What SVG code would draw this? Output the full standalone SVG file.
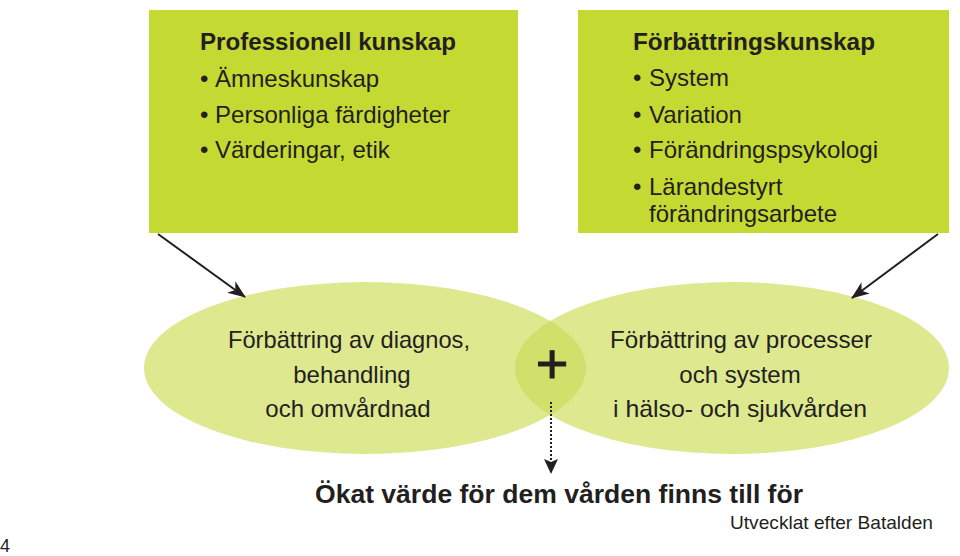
<svg xmlns="http://www.w3.org/2000/svg" width="960" height="556" viewBox="0 0 960 556">
<style>
text{font-family:"Liberation Sans",Arial,sans-serif;fill:#231f20;}
.t{font-size:24px;font-weight:bold;}
.b{font-size:24px;}
.e{font-size:24px;text-anchor:middle;}
.box{fill:#c5d933;}
.ell{fill:#dde88f;}
.conn{stroke:#231f20;stroke-width:2;fill:none;}
</style>
<defs>
<marker id="ah" viewBox="0 0 18 14" refX="17" refY="7" markerWidth="18" markerHeight="14" markerUnits="userSpaceOnUse" orient="auto">
<path d="M0,0 L18,7 L0,14 L5,7 Z" fill="#231f20"/>
</marker>
<clipPath id="clipL"><ellipse cx="365" cy="368" rx="221" ry="86"/></clipPath>
</defs>
<rect width="960" height="556" fill="#fff"/>
<g id="box-professionell">
<rect class="box" x="149" y="10" width="369" height="223"/>
<text class="t" x="200" y="50" textLength="256" lengthAdjust="spacingAndGlyphs">Professionell kunskap</text>
<text class="b" x="200" y="87">•</text><text class="b" x="215" y="87">Ämneskunskap</text>
<text class="b" x="200" y="123">•</text><text class="b" x="215" y="123" textLength="235" lengthAdjust="spacingAndGlyphs">Personliga färdigheter</text>
<text class="b" x="200" y="158">•</text><text class="b" x="215" y="158">Värderingar, etik</text>
</g>
<g id="box-forbattring">
<rect class="box" x="578" y="10" width="371" height="223"/>
<text class="t" x="633" y="50" textLength="242" lengthAdjust="spacingAndGlyphs">Förbättringskunskap</text>
<text class="b" x="633" y="86">•</text><text class="b" x="649" y="86">System</text>
<text class="b" x="633" y="123">•</text><text class="b" x="649" y="123">Variation</text>
<text class="b" x="633" y="158">•</text><text class="b" x="649" y="158" textLength="229" lengthAdjust="spacingAndGlyphs">Förändringspsykologi</text>
<text class="b" x="633" y="195">•</text><text class="b" x="649" y="195">Lärandestyrt</text>
<text class="b" x="649" y="222" textLength="188" lengthAdjust="spacingAndGlyphs">förändringsarbete</text>
</g>
<g id="ellipse-left">
<ellipse class="ell" cx="365" cy="368" rx="221" ry="86"/>
</g>
<g id="ellipse-right">
<ellipse class="ell" cx="732" cy="368" rx="217" ry="86"/>
</g>
<g id="overlap">
<ellipse cx="732" cy="368" rx="217" ry="86" fill="#cfe06b" clip-path="url(#clipL)"/>
</g>
<g id="ellipse-left-text">
<text class="e" x="349" y="348" textLength="242" lengthAdjust="spacingAndGlyphs">Förbättring av diagnos,</text>
<text class="e" x="352" y="383">behandling</text>
<text class="e" x="348" y="417">och omvårdnad</text>
</g>
<g id="ellipse-right-text">
<text class="e" x="741" y="348" textLength="262" lengthAdjust="spacingAndGlyphs">Förbättring av processer</text>
<text class="e" x="740" y="383">och system</text>
<text class="e" x="740" y="417" textLength="254" lengthAdjust="spacingAndGlyphs">i hälso- och sjukvården</text>
</g>
<g id="plus">
<text x="552" y="383" style="font-size:56px;text-anchor:middle;stroke:#231f20;stroke-width:1;">+</text>
</g>
<g id="connectors">
<line class="conn" x1="158" y1="234" x2="245" y2="297" marker-end="url(#ah)"/>
<line class="conn" x1="938" y1="234" x2="852" y2="298" marker-end="url(#ah)"/>
<line class="conn" x1="551" y1="402" x2="551" y2="463" stroke-dasharray="2,2"/>
<path d="M544,459 L551,474 L558,459 L551,462 Z" fill="#231f20"/>
</g>
<g id="result">
<text x="315" y="503" style="font-size:26px;font-weight:bold;" textLength="488" lengthAdjust="spacingAndGlyphs">Ökat värde för dem vården finns till för</text>
</g>
<text x="730" y="529" style="font-size:19px;" textLength="203" lengthAdjust="spacingAndGlyphs">Utvecklat efter Batalden</text>
<text x="0" y="552" style="font-size:18px;">4</text>
</svg>
